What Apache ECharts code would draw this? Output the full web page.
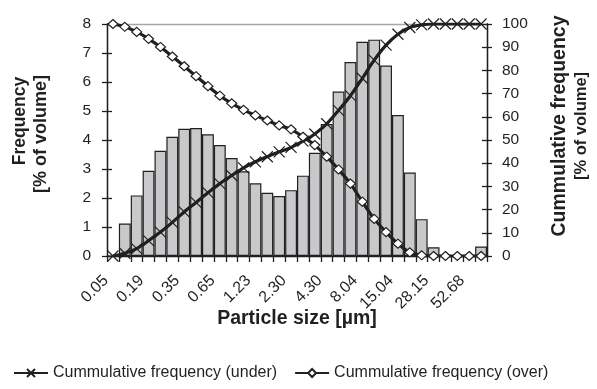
<!DOCTYPE html>
<html>
<head>
<meta charset="utf-8">
<script src="https://cdn.jsdelivr.net/npm/echarts@6/dist/echarts.min.js"></script>
<style>
  html, body { margin: 0; padding: 0; background: #fff; }
  #chart { width: 597px; height: 389px; }
</style>
</head>
<body>
<div id="chart"></div>
<script>
// particle size classes (um)
const sizes = ['0.05', '0.12', '0.15', '0.19', '0.23', '0.29', '0.35', '0.43', '0.53', '0.65',
  '0.81', '1.00', '1.23', '1.51', '1.86', '2.30', '2.83', '3.49', '4.30', '5.29', '6.52',
  '8.04', '9.91', '12.21', '15.04', '18.54', '22.84', '28.15', '34.69', '42.75', '52.68', '64.92']

// frequency [% of volume]
const frequency = [0, 1.12, 2.09, 2.94, 3.63, 4.11, 4.39, 4.41, 4.20, 3.83, 3.38, 2.92, 2.51,
  2.18, 2.07, 2.27, 2.77, 3.56, 4.55, 5.67, 6.69, 7.39, 7.46, 6.57, 4.86, 2.88, 1.27, 0.30,
  0, 0, 0, 0.33]

// cumulative frequency [% of volume]
const cumUnder = [0, 1.2, 3.2, 6.6, 10.3, 14.5, 19.0, 23.1, 27.3, 31.2, 34.7, 38.0, 40.6, 42.8,
  44.9, 46.8, 49.5, 52.6, 57.0, 62.8, 69.1, 76.6, 84.4, 90.9, 95.6, 98.5, 99.6, 100, 100, 100, 100, 100]
const cumOver = [100, 98.8, 96.6, 93.6, 90.1, 86.0, 81.8, 77.5, 73.2, 69.1, 65.8, 63.0, 60.6, 58.4,
  56.3, 54.6, 51.4, 47.8, 42.8, 37.3, 31.2, 23.4, 16.0, 10.3, 5.3, 1.6, 0.3, 0, 0, 0, 0, 0]

const ink = '#231f20'
const font = 'Liberation Sans, Arial, sans-serif'
const crossPath = 'path://M0,0L10,10M10,0L0,10'

const chart = echarts.init(document.getElementById('chart'))

// Y axis base settings (cross ticks are made with a second axis drawing the inside half)
const yBase = (pos, max, interval) => ({
  type: 'value',
  position: pos,
  min: 0,
  max: max,
  interval: interval,
  axisLine: { show: true, lineStyle: { color: ink, width: 1.3 } },
  axisTick: { show: true, length: 5, lineStyle: { color: ink, width: 1.3 } },
  axisLabel: { color: ink, fontFamily: font, fontSize: 15.5 },
  splitLine: { show: false }
})

const yLeft = yBase('left', 8, 1)
yLeft.axisLabel.margin = 16
// only the top grid line is drawn in grey
yLeft.splitLine = {
  show: true,
  lineStyle: { color: ['transparent', 'transparent', 'transparent', 'transparent', 'transparent',
    'transparent', 'transparent', 'transparent', '#a6a6a6'], width: 1.3 }
}
const yRight = yBase('right', 100, 10)
yRight.axisLabel.margin = 15

const yLeftIn = yBase('left', 8, 1)
yLeftIn.axisTick.inside = true
yLeftIn.axisLabel = { show: false }
const yRightIn = yBase('right', 100, 10)
yRightIn.axisTick.inside = true
yRightIn.axisLabel = { show: false }

const titleStyle = (size) => ({
  align: 'center', verticalAlign: 'middle',
  fontFamily: font, fontSize: size, fontWeight: 'bold', fill: ink
})

const option = {
  animation: false,
  backgroundColor: '#fff',
  textStyle: { fontFamily: font, color: ink },
  grid: { left: 107, right: 110, top: 24, bottom: 133 },
  legend: {
    left: 8,
    top: 360,
    itemWidth: 34,
    itemHeight: 10,
    itemGap: 17,
    textStyle: { color: ink, fontFamily: font, fontSize: 16 },
    data: ['Cummulative frequency (under)', 'Cummulative frequency (over)']
  },
  xAxis: {
    type: 'category',
    data: sizes,
    boundaryGap: true,
    name: 'Particle size [µm]',
    nameLocation: 'middle',
    nameGap: 53,
    nameMoveOverlap: false,
    nameTextStyle: { color: ink, fontFamily: font, fontSize: 19.5, fontWeight: 'bold' },
    axisLine: { show: true, lineStyle: { color: ink, width: 1.3 } },
    axisTick: { show: true, interval: 0, length: 6, lineStyle: { color: ink, width: 1.3 } },
    axisLabel: {
      interval: 2, rotate: 45, margin: 15, padding: [0, 10, 0, 0],
      color: ink, fontFamily: font, fontSize: 16
    }
  },
  yAxis: [yLeft, yRight, yLeftIn, yRightIn],
  graphic: [
    { type: 'text', x: 20, y: 121, rotation: Math.PI / 2, style: Object.assign({ text: 'Frequency' }, titleStyle(17.5)) },
    { type: 'text', x: 41, y: 134, rotation: Math.PI / 2, style: Object.assign({ text: '[% of volume]' }, titleStyle(18)) },
    { type: 'text', x: 560, y: 126, rotation: Math.PI / 2, style: Object.assign({ text: 'Cummulative frequency' }, titleStyle(19.5)) },
    { type: 'text', x: 581, y: 126, rotation: Math.PI / 2, style: Object.assign({ text: '[% of volume]' }, titleStyle(16.5)) }
  ],
  series: [
    {
      name: 'Frequency',
      type: 'bar',
      yAxisIndex: 0,
      data: frequency,
      barCategoryGap: 0,
      itemStyle: { color: '#c8c9cb', borderColor: ink, borderWidth: 1.2 },
      z: 1
    },
    {
      name: 'Cummulative frequency (under)',
      type: 'line',
      yAxisIndex: 1,
      data: cumUnder,
      smooth: 0.3,
      symbol: crossPath,
      symbolSize: 11,
      showAllSymbol: true,
      lineStyle: { color: ink, width: 3.2 },
      itemStyle: { color: 'transparent', borderColor: ink, borderWidth: 1.2 },
      z: 3
    },
    {
      name: 'Cummulative frequency (over)',
      type: 'line',
      yAxisIndex: 1,
      data: cumOver,
      smooth: 0.3,
      symbol: 'diamond',
      symbolSize: [10, 9],
      showAllSymbol: true,
      lineStyle: { color: ink, width: 3.2 },
      itemStyle: { color: '#fff', borderColor: ink, borderWidth: 1.2 },
      z: 3
    }
  ]
}

chart.setOption(option)
</script>
</body>
</html>
